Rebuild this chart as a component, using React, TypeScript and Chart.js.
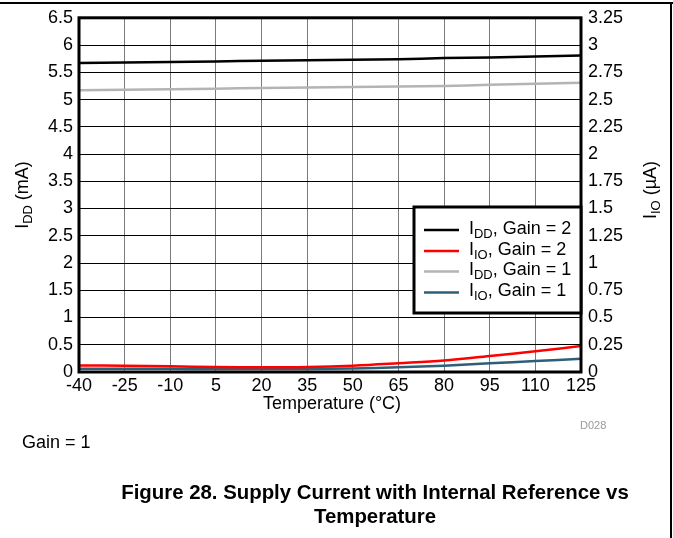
import { useEffect, useRef } from "react";
import { Chart, registerables } from "chart.js";

Chart.register(...registerables);

const temperatures = [-40, -25, -10, 5, 20, 35, 50, 65, 80, 95, 110, 125];
const iddGain2 = [5.67, 5.68, 5.69, 5.7, 5.71, 5.72, 5.73, 5.74, 5.76, 5.77, 5.79, 5.81];
const iioGain2 = [0.06, 0.058, 0.052, 0.045, 0.043, 0.046, 0.058, 0.08, 0.105, 0.147, 0.19, 0.238];
const iddGain1 = [5.17, 5.18, 5.19, 5.2, 5.21, 5.22, 5.23, 5.24, 5.25, 5.27, 5.29, 5.31];
const iioGain1 = [0.03, 0.03, 0.029, 0.028, 0.027, 0.028, 0.032, 0.043, 0.058, 0.08, 0.1, 0.122];

const xTickValues = [-40, -25, -10, 5, 20, 35, 50, 65, 80, 95, 110, 125];
const leftTickValues = [0, 0.5, 1, 1.5, 2, 2.5, 3, 3.5, 4, 4.5, 5, 5.5, 6, 6.5];
const rightTickValues = [0, 0.25, 0.5, 0.75, 1, 1.25, 1.5, 1.75, 2, 2.25, 2.5, 2.75, 3, 3.25];

const seriesNames = [
  { main: "I", sub: "DD", rest: ", Gain = 2" },
  { main: "I", sub: "IO", rest: ", Gain = 2" },
  { main: "I", sub: "DD", rest: ", Gain = 1" },
  { main: "I", sub: "IO", rest: ", Gain = 1" },
];
const seriesColors = ["#000000", "#ff0000", "#b4b4b4", "#2e5f78"];

const FONT = "'Liberation Sans', Arial, sans-serif";
const SIZE = 18;

type Part = { t: string; sub?: boolean };

function partsWidth(ctx: CanvasRenderingContext2D, parts: Part[], size: number) {
  let w = 0;
  for (const p of parts) {
    ctx.font = `${p.sub ? size * 0.72 : size}px ${FONT}`;
    w += ctx.measureText(p.t).width;
  }
  return w;
}

function drawParts(ctx: CanvasRenderingContext2D, parts: Part[], x: number, y: number, size: number) {
  let cx = x;
  ctx.textAlign = "left";
  ctx.textBaseline = "middle";
  for (const p of parts) {
    ctx.font = `${p.sub ? size * 0.72 : size}px ${FONT}`;
    ctx.fillText(p.t, cx, p.sub ? y + size * 0.28 : y);
    cx += ctx.measureText(p.t).width;
  }
}

const decorPlugin = {
  id: "decor",
  afterDraw(chart: any) {
    const ctx: CanvasRenderingContext2D = chart.ctx;
    const a = chart.chartArea;
    ctx.save();
    // plot frame
    ctx.strokeStyle = "#000";
    ctx.lineWidth = 3;
    ctx.strokeRect(a.left, a.top, a.right - a.left, a.bottom - a.top);

    // legend
    const lx = 414;
    const ly = 207;
    const lw = a.right - lx;
    const lh = 106;
    ctx.fillStyle = "#fff";
    ctx.fillRect(lx, ly, lw, lh);
    ctx.lineWidth = 3;
    ctx.strokeRect(lx, ly, lw, lh);
    const rowY = [229, 250, 270.5, 291.5];
    seriesNames.forEach((s, i) => {
      ctx.strokeStyle = seriesColors[i];
      ctx.lineWidth = 2.5;
      ctx.beginPath();
      ctx.moveTo(424, rowY[i] + 1);
      ctx.lineTo(459, rowY[i] + 1);
      ctx.stroke();
      ctx.fillStyle = "#000";
      drawParts(ctx, [{ t: s.main }, { t: s.sub, sub: true }, { t: s.rest }], 469, rowY[i], SIZE);
    });

    // axis titles
    ctx.fillStyle = "#000";
    const xt: Part[] = [{ t: "Temperature (°C)" }];
    const xw = partsWidth(ctx, xt, SIZE);
    drawParts(ctx, xt, 332 - xw / 2, 404, SIZE);

    const lt: Part[] = [{ t: "I" }, { t: "DD", sub: true }, { t: " (mA)" }];
    ctx.save();
    ctx.translate(23, 195);
    ctx.rotate(-Math.PI / 2);
    const lw2 = partsWidth(ctx, lt, SIZE);
    drawParts(ctx, lt, -lw2 / 2, 0, SIZE);
    ctx.restore();

    const rt: Part[] = [{ t: "I" }, { t: "IO", sub: true }, { t: " (µA)" }];
    ctx.save();
    ctx.translate(651, 190);
    ctx.rotate(-Math.PI / 2);
    const rw = partsWidth(ctx, rt, SIZE);
    drawParts(ctx, rt, -rw / 2, 0, SIZE);
    ctx.restore();

    ctx.restore();
  },
};

export default function App() {
  const ref = useRef<HTMLCanvasElement | null>(null);

  useEffect(() => {
    if (!ref.current) return;
    const tickFont = { family: FONT, size: SIZE };
    const chart = new Chart(ref.current, {
      type: "line",
      data: {
        datasets: [
          {
            label: "IDD, Gain = 2",
            data: temperatures.map((t, i) => ({ x: t, y: iddGain2[i] })),
            borderColor: seriesColors[0],
            borderWidth: 2.5,
            yAxisID: "y",
          },
          {
            label: "IIO, Gain = 2",
            data: temperatures.map((t, i) => ({ x: t, y: iioGain2[i] })),
            borderColor: seriesColors[1],
            borderWidth: 2.5,
            yAxisID: "y2",
          },
          {
            label: "IDD, Gain = 1",
            data: temperatures.map((t, i) => ({ x: t, y: iddGain1[i] })),
            borderColor: seriesColors[2],
            borderWidth: 2.5,
            yAxisID: "y",
          },
          {
            label: "IIO, Gain = 1",
            data: temperatures.map((t, i) => ({ x: t, y: iioGain1[i] })),
            borderColor: seriesColors[3],
            borderWidth: 2.5,
            yAxisID: "y2",
          },
        ],
      },
      options: {
        animation: false,
        responsive: false,
        devicePixelRatio: 1,
        elements: { point: { radius: 0 }, line: { tension: 0.35 } },
        layout: { padding: { left: 0, right: 0, top: 17, bottom: 136 } },
        plugins: { legend: { display: false }, tooltip: { enabled: false } },
        scales: {
          x: {
            type: "linear",
            min: -40,
            max: 125,
            afterBuildTicks: (s: any) => {
              s.ticks = xTickValues.map((v) => ({ value: v }));
            },
            afterFit: (s: any) => {
              s.height = 30;
            },
            grid: { color: "#7a7a7a", lineWidth: 1, drawTicks: false },
            border: { display: false },
            ticks: { font: tickFont, color: "#000", padding: 3, maxRotation: 0, autoSkip: false },
          },
          y: {
            type: "linear",
            position: "left",
            min: 0,
            max: 6.5,
            afterBuildTicks: (s: any) => {
              s.ticks = leftTickValues.map((v) => ({ value: v }));
            },
            afterFit: (s: any) => {
              s.width = 79;
            },
            grid: { color: "#000", lineWidth: 1, drawTicks: false },
            border: { display: false },
            ticks: { font: tickFont, color: "#000", padding: 6, autoSkip: false, callback: (v: any) => String(v) },
          },
          y2: {
            type: "linear",
            position: "right",
            min: 0,
            max: 3.25,
            afterBuildTicks: (s: any) => {
              s.ticks = rightTickValues.map((v) => ({ value: v }));
            },
            afterFit: (s: any) => {
              s.width = 92;
            },
            grid: { drawOnChartArea: false, drawTicks: false },
            border: { display: false },
            ticks: { font: tickFont, color: "#000", padding: 7, autoSkip: false, callback: (v: any) => String(v) },
          },
        },
      },
      plugins: [decorPlugin],
    } as any);
    return () => chart.destroy();
  }, []);

  return (
    <div style={{ position: "fixed", left: 0, top: 0, width: 673, height: 538, background: "#fff", fontFamily: FONT }}>
      <canvas ref={ref} width={673} height={538} style={{ position: "absolute", left: 0, top: 0, width: 673, height: 538 }} />
      <div style={{ position: "absolute", left: 0, top: 2, width: 673, height: 2, background: "#000" }} />
      <div style={{ position: "absolute", left: 670, top: 2, width: 2, height: 536, background: "#000" }} />
      <div style={{ position: "absolute", left: 580, top: 418, fontSize: 11, lineHeight: "14px", color: "#999" }}>D028</div>
      <div style={{ position: "absolute", left: 22, top: 431, fontSize: 18, lineHeight: "22px", color: "#000" }}>Gain = 1</div>
      <div
        style={{
          position: "absolute",
          left: 75,
          top: 480,
          width: 600,
          textAlign: "center",
          fontSize: 20.4,
          fontWeight: "bold",
          lineHeight: "24px",
          color: "#000",
        }}
      >
        Figure 28. Supply Current with Internal Reference vs
        <br />
        Temperature
      </div>
    </div>
  );
}
